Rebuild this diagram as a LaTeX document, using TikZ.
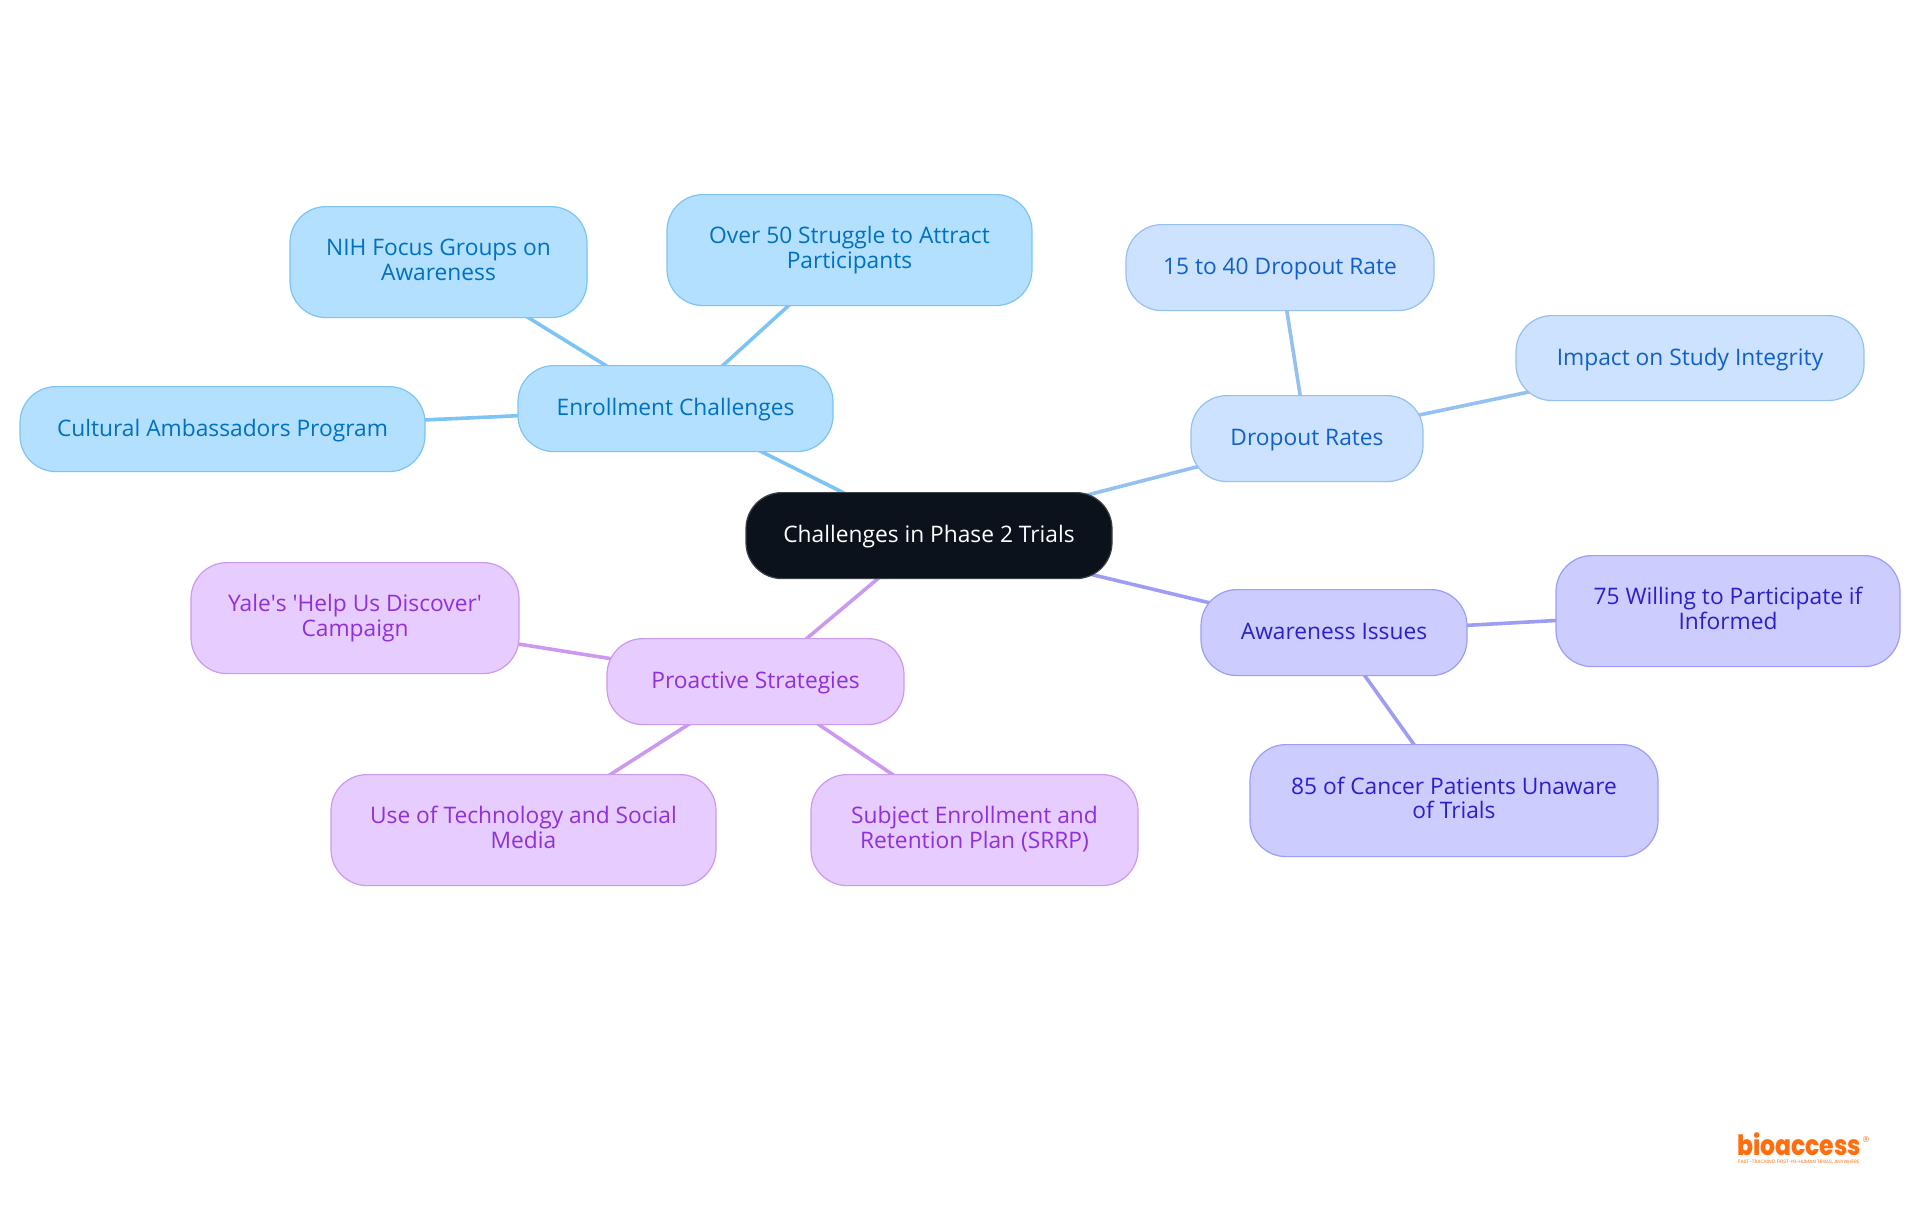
\documentclass[tikz,border=0pt]{standalone}
\usepackage{fontspec}
\setmainfont{Open Sans}
\newfontfamily\logofont{Poppins}
\newfontfamily\logoheavy{Poppins ExtraBold}
\newfontfamily\regfont{DejaVu Sans}
\usetikzlibrary{backgrounds}
\definecolor{cfill}{HTML}{0C121B}\definecolor{cline}{HTML}{3B4047}
\definecolor{bfill}{HTML}{B3E0FF}\definecolor{bline}{HTML}{7DC4F5}\definecolor{btext}{HTML}{0070C0}
\definecolor{dfill}{HTML}{CCE2FF}\definecolor{dline}{HTML}{94C1F0}\definecolor{dtext}{HTML}{1060C8}
\definecolor{afill}{HTML}{CCCCFF}\definecolor{aline}{HTML}{9D9DF5}\definecolor{atext}{HTML}{2B20C8}
\definecolor{pfill}{HTML}{E6CCFF}\definecolor{pline}{HTML}{CC99F0}\definecolor{ptext}{HTML}{9030D8}
\definecolor{logoc}{HTML}{FF6F0F}
\newcommand{\ls}{\rule[-5.5pt]{0pt}{25pt}}
\newcommand{\nl}{\\[-0.5pt]\rule[-8pt]{0pt}{27.5pt}}
\tikzset{
 mapbox/.style={draw,line width=1.2pt,rounded corners=36pt,align=center,inner sep=0pt,
   font=\fontsize{22.75}{25}\selectfont},
 central/.style={mapbox,fill=cfill,draw=cline,text=white},
 bluebox/.style={mapbox,fill=bfill,draw=bline,text=btext},
 skybox/.style={mapbox,fill=dfill,draw=dline,text=dtext},
 indigobox/.style={mapbox,fill=afill,draw=aline,text=atext},
 purplebox/.style={mapbox,fill=pfill,draw=pline,text=ptext},
 link/.style={line width=3.6pt}
}
\newcommand{\mapnode}[7]{%
 \pgfmathsetmacro{\cx}{(#2+#3)/2}\pgfmathsetmacro{\cy}{(#4+#5)/2+0.6}%
 \pgfmathsetmacro{\bw}{#3-#2}\pgfmathsetmacro{\bh}{#5-#4}%
 \node[#6,minimum width=\bw pt,minimum height=\bh pt] (#1) at (\cx,\cy) {#7};}
\begin{document}
\begin{tikzpicture}[x=1pt,y=-1pt]
\useasboundingbox (0,0) rectangle (1920,1215);
\mapnode{center}{746}{1112}{492}{578}{central}{\ls Challenges in Phase 2 Trials}
\mapnode{enroll}{518}{833}{365}{451}{bluebox}{\ls Enrollment Challenges}
\mapnode{over}{667}{1032}{194}{305}{bluebox}{\ls Over 50 Struggle to Attract\nl Participants}
\mapnode{nih}{290}{587}{206}{317}{bluebox}{\ls NIH Focus Groups on\nl Awareness}
\mapnode{cultural}{20}{425}{386}{471}{bluebox}{\ls Cultural Ambassadors Program}
\mapnode{dropout}{1191}{1423}{395}{481}{skybox}{\ls Dropout Rates}
\mapnode{rate}{1126}{1434}{224}{310}{skybox}{\ls 15 to 40 Dropout Rate}
\mapnode{impact}{1516}{1864}{315}{400}{skybox}{\ls Impact on Study Integrity}
\mapnode{aware}{1201}{1467}{589}{675}{indigobox}{\ls Awareness Issues}
\mapnode{willing}{1556}{1900}{555}{666}{indigobox}{\ls 75 Willing to Participate if\nl Informed}
\mapnode{cancer}{1250}{1658}{744}{856}{indigobox}{\ls 85 of Cancer Patients Unaware\nl of Trials}
\mapnode{proactive}{607}{904}{638}{724}{purplebox}{\ls Proactive Strategies}
\mapnode{yale}{191}{519}{562}{673}{purplebox}{\ls Yale\textquotesingle s \textquotesingle Help Us Discover\textquotesingle\nl Campaign}
\mapnode{tech}{331}{716}{774}{885}{purplebox}{\ls Use of Technology and Social\nl Media}
\mapnode{srrp}{811}{1138}{774}{885}{purplebox}{\ls Subject Enrollment and\nl Retention Plan (SRRP)}
\node[anchor=base west,inner sep=0pt,text=logoc,xscale=0.84,text depth=0pt,font=\logoheavy\fontsize{28}{28}\selectfont] (logo) at (1737,1155) {bioaccess};
\node[anchor=center,inner sep=0pt,text=logoc,font=\regfont\fontsize{8}{8}\selectfont] (reg) at (1866,1140) {®};
\node[anchor=base west,inner sep=0pt,text=logoc,text height=3.4pt,text depth=0pt,font=\logofont\fontsize{4.8}{5}\selectfont] (tag) at (1738,1163) {FAST-TRACKING FIRST-IN-HUMAN TRIALS, ANYWHERE};
\begin{scope}[on background layer]
\draw[link,bline] (center.center)--(enroll.center);
\draw[link,bline] (enroll.center)--(over.center);
\draw[link,bline] (enroll.center)--(nih.center);
\draw[link,bline] (enroll.center)--(cultural.center);
\draw[link,dline] (center.center)--(dropout.center);
\draw[link,dline] (dropout.center)--(rate.center);
\draw[link,dline] (dropout.center)--(impact.center);
\draw[link,aline] (center.center)--(aware.center);
\draw[link,aline] (aware.center)--(willing.center);
\draw[link,aline] (aware.center)--(cancer.center);
\draw[link,pline] (center.center)--(proactive.center);
\draw[link,pline] (proactive.center)--(yale.center);
\draw[link,pline] (proactive.center)--(tech.center);
\draw[link,pline] (proactive.center)--(srrp.center);
\end{scope}
\end{tikzpicture}
\end{document}
